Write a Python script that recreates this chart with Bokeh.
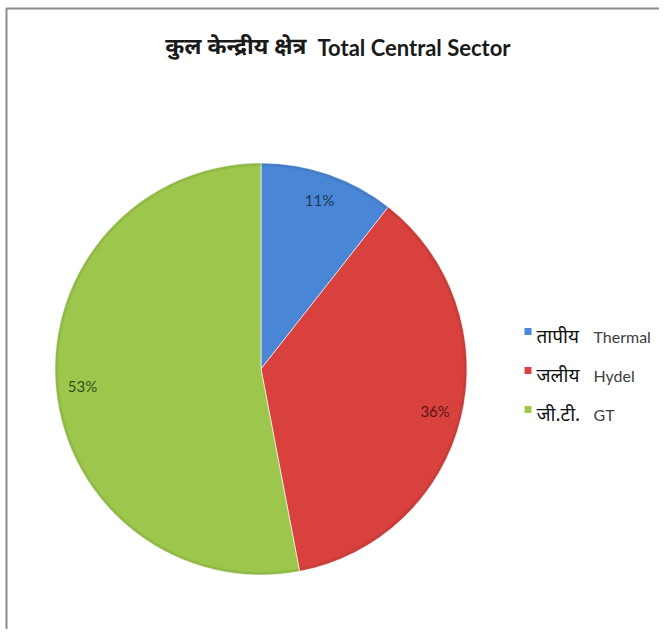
import math
from bokeh.plotting import figure
from bokeh.models import Range1d, ColumnDataSource
from bokeh.core.properties import value
from bokeh.embed import file_html
from bokeh.resources import INLINE

# ---- data ----
categories_hi = ["तापीय", "जलीय", "जी.टी."]
categories_en = ["Thermal", "Hydel", "GT"]
shares = [10.6, 36.4, 53.0]
colors = ["#4a86d6", "#d8413e", "#9dc74c"]
label_colors = ["#1d3557", "#5a1515", "#33501a"]
title_hi = "कुल केन्द्रीय क्षेत्र"
title_en = "Total Central Sector"

W, H = 659, 629
p = figure(width=W, height=H, output_backend="svg", toolbar_location=None,
           x_range=Range1d(0, W), y_range=Range1d(-H, 0),
           min_border=0, outline_line_color=None)
p.axis.visible = False
p.grid.visible = False
p.background_fill_color = "white"
p.border_fill_color = "white"

# chart area frame (top & left edges visible in the window)
p.quad(left=[6], right=[900], top=[-8], bottom=[-900], fill_color=None,
       line_color="#8c8c8c", line_width=2)

cx, cy, R = 260.5, -368.5, 206
total = float(sum(shares))
starts, ends, mids = [], [], []
acc = 0.0
for s in shares:
    a0 = math.pi / 2 - 2 * math.pi * acc / total
    acc += s
    a1 = math.pi / 2 - 2 * math.pi * acc / total
    starts.append(a0)
    ends.append(a1)
    mids.append((a0 + a1) / 2)

src = ColumnDataSource(dict(start=starts, end=ends, color=colors))
p.wedge(x=cx, y=cy, radius=R, start_angle="start", end_angle="end",
        direction="clock", fill_color="color", line_color="white",
        line_alpha=0.6, line_width=1, source=src)
# subtle darker rim (bevel look)
p.annular_wedge(x=cx, y=cy, inner_radius=R - 3, outer_radius=R,
                start_angle="start", end_angle="end", direction="clock",
                fill_color="black", fill_alpha=0.07, line_color=None, source=src)

lr = 0.87 * R
lab = ColumnDataSource(dict(
    x=[cx + lr * math.cos(m) for m in mids],
    y=[cy + lr * math.sin(m) for m in mids],
    t=[f"{s:.0f}%" for s in shares],
    c=label_colors))
p.text(x="x", y="y", text="t", text_color="c", text_font=value("Lato"),
       text_font_size="15px", text_align="center", text_baseline="middle",
       source=lab)

# title (Devanagari part + English part)
p.text(x=[306], y=[-47], text=[title_hi],
       text_font=value("'Noto Sans Devanagari', 'Noto Sans'"),
       text_font_size="23px", text_font_style="bold", text_color="#1a1a1a",
       text_align="right", text_baseline="middle")
p.text(x=[317], y=[-47], text=[title_en],
       text_font=value("Lato"),
       text_font_size="22px", text_font_style="bold", text_color="#1a1a1a",
       text_align="left", text_baseline="middle")

# legend
ly = [-331 - 39 * i for i in range(len(shares))]
p.scatter(x=[527.5] * len(shares), y=ly, marker="square", size=7,
          fill_color=colors, line_color=None)
p.text(x=[536] * len(shares), y=[v - 7 for v in ly], text=categories_hi,
       text_font=value("'Noto Sans Devanagari', 'Noto Sans'"), text_font_size="19px",
       text_color="#111111", text_align="left", text_baseline="middle")
p.text(x=[593] * len(shares), y=[v - 5 for v in ly], text=categories_en,
       text_font=value("Lato"), text_font_size="16px",
       text_color="#404040", text_align="left", text_baseline="middle")

open("out.html", "w").write(file_html(p, INLINE))
